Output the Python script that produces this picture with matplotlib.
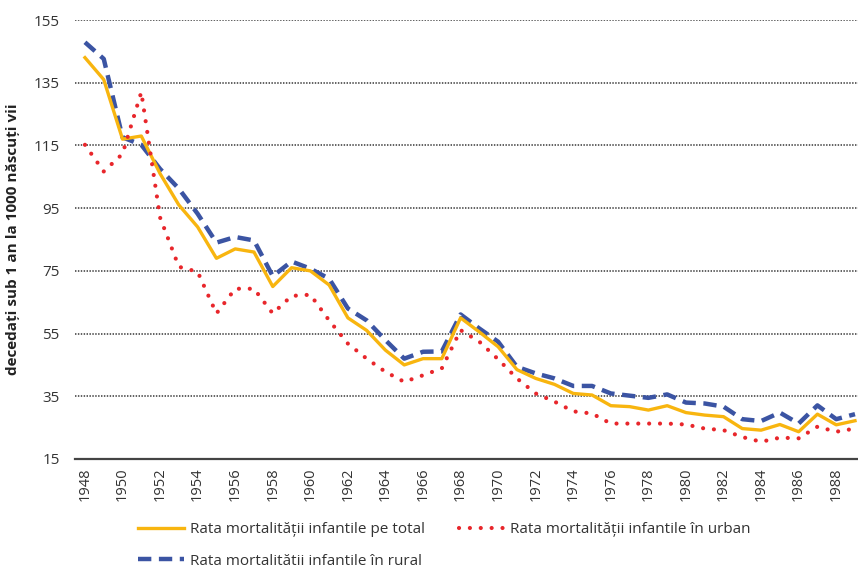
import matplotlib
matplotlib.use("Agg")
import matplotlib.pyplot as plt
from matplotlib.lines import Line2D

plt.rcParams['font.family'] = ['Open Sans', 'DejaVu Sans']

# Data
years = list(range(1948, 1990))

total = [143, 136, 117, 118, 106, 96, 89, 79, 82, 81, 70,
         76, 75, 70.5, 60, 56, 49.7, 45, 47, 47, 60,
         55.5, 50.8, 43.5, 40.7, 38.8, 35.9, 35.4, 32, 31.7, 30.6,
         32, 29.8, 29, 28.5, 24.7, 24.2, 26, 23.7, 29.3, 25.9, 27.2]

urban = [115.2, 106.7, 112.3, 132, 92, 76.3, 74.7, 61.4, 69.3, 69.3, 61.4,
         67, 67.4, 59.2, 51.8, 47, 42.8, 39.6, 41.7, 43.9, 56.1,
         52.4, 46.8, 40.7, 35.9, 33.3, 30.2, 29.5, 26.3, 26.3, 26.3,
         26.3, 26, 24.7, 24.2, 22, 20.5, 21.8, 21.6, 25.3, 23.7, 24.7]

rural = [147.9, 142.6, 117.6, 115.2, 107.5, 101.2, 93.2, 84, 85.8, 84.7, 73.3,
         78, 75.7, 72.5, 63, 59.2, 52.9, 47, 49.2, 49.3, 61.1,
         56.6, 52.4, 44.4, 42.3, 40.7, 38.3, 38.3, 35.9, 35.2, 34.5,
         35.6, 33, 32.7, 31.7, 27.7, 27.1, 29.8, 26.3, 32.1, 27.7, 29.3]

yticks = [15, 35, 55, 75, 95, 115, 135, 155]
xticks = list(range(1948, 1989, 2))

labels = ["Rata mortalității infantile pe total",
          "Rata mortalitătii infantile în rural",
          "Rata mortalității infantile în urban"]

c_total = '#F8B50F'
c_urban = '#E8262B'
c_rural = '#3B54A3'

urban_style = (0, (0.01, 2.6))
rural_style = (0, (3.0, 1.7))

W, H = 858, 568
fig = plt.figure(figsize=(W / 100, H / 100), dpi=100)
ax = fig.add_axes([75 / W, 1 - 459 / H, (858 - 75) / W, (459 - 20) / H])

ax.plot(years, total, color=c_total, lw=2.4, zorder=3)
ax.plot(years, urban, color=c_urban, lw=3.0, linestyle=urban_style,
        dash_capstyle='round', zorder=4)
ax.plot(years, rural, color=c_rural, lw=3.2, linestyle=rural_style, zorder=2)

ax.set_xlim(1947.47, 1989.16)
ax.set_ylim(15, 155)
ax.set_yticks(yticks)
ax.set_xticks(xticks)
ax.set_xticklabels([str(y) for y in xticks], rotation=90, fontsize=10.5, color='#333333')
ax.tick_params(axis='y', length=0, pad=11, labelsize=11, labelcolor='#333333')
ax.tick_params(axis='x', length=0, pad=6)

for v in yticks[1:]:
    ax.axhline(v, color='#555555', lw=1.3, linestyle=(0, (0.8, 0.8)), zorder=1)

for s in ['top', 'right', 'left']:
    ax.spines[s].set_visible(False)
ax.spines['bottom'].set_color('#444444')
ax.spines['bottom'].set_linewidth(1.6)

ax.set_ylabel("decedați sub 1 an la 1000 născuți vii", fontsize=11, fontweight='bold',
              color='#222222', labelpad=10)

handles = [
    Line2D([], [], color=c_total, lw=2.4),
    Line2D([], [], color=c_rural, lw=3.2, linestyle=rural_style),
    Line2D([], [], color=c_urban, lw=3.0, linestyle=urban_style, dash_capstyle='round'),
]
fig.legend(handles, labels, loc='upper left', bbox_to_anchor=(138 / W, 1 - 522 / H),
           ncol=2, frameon=False, fontsize=11, handlelength=3.0, handletextpad=0.4,
           columnspacing=2.2, labelspacing=1.1, borderaxespad=0, borderpad=0,
           labelcolor='#333333')

fig.savefig("out.png", dpi=100, facecolor='white')
plt.close(fig)
